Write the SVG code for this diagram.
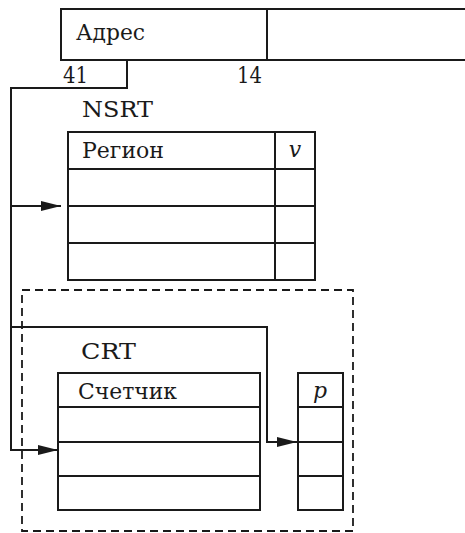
<svg xmlns="http://www.w3.org/2000/svg" width="465" height="533" viewBox="0 0 465 533">
<defs>
<style>
.box{fill:none;stroke:#1a1a1a;stroke-width:2}
.ln{fill:none;stroke:#1a1a1a;stroke-width:2}
.dash{fill:none;stroke:#1a1a1a;stroke-width:1.8;stroke-dasharray:8,5}
.t{font-family:'DejaVu Serif','Liberation Serif',serif;font-size:22px;fill:#1a1a1a}
.it{font-style:italic}
</style>
<marker id="ah" markerWidth="20" markerHeight="10" refX="20" refY="5" orient="auto" markerUnits="userSpaceOnUse">
<path d="M0,0 L20,5 L0,10 Z" fill="#1a1a1a"/>
</marker>
</defs>
<rect width="465" height="533" fill="#ffffff"/>
<g id="address">
<path class="box" d="M466,9 H61 V60 H466"/>
<line class="ln" x1="267" y1="9" x2="267" y2="60"/>
<text class="t" x="76" y="40" textLength="69" lengthAdjust="spacingAndGlyphs">Адрес</text>
<text class="t" x="63" y="83" textLength="25" lengthAdjust="spacingAndGlyphs">41</text>
<text class="t" x="237" y="83" textLength="25" lengthAdjust="spacingAndGlyphs">14</text>
</g>
<g id="nsrt">
<text class="t" x="82" y="117" textLength="71" lengthAdjust="spacingAndGlyphs">NSRT</text>
<rect class="box" x="68" y="132" width="247" height="148"/>
<line class="ln" x1="275" y1="132" x2="275" y2="280"/>
<line class="ln" x1="68" y1="169" x2="315" y2="169"/>
<line class="ln" x1="68" y1="206" x2="315" y2="206"/>
<line class="ln" x1="68" y1="243" x2="315" y2="243"/>
<text class="t" x="82" y="158" textLength="82" lengthAdjust="spacingAndGlyphs">Регион</text>
<text class="t it" x="295" y="157" text-anchor="middle">v</text>
</g>
<g id="crt-group">
<rect class="dash" x="22" y="290" width="331" height="241"/>
</g>
<g id="crt">
<text class="t" x="81" y="359" textLength="55" lengthAdjust="spacingAndGlyphs">CRT</text>
<rect class="box" x="58" y="373" width="202" height="137"/>
<line class="ln" x1="58" y1="407" x2="260" y2="407"/>
<line class="ln" x1="58" y1="442" x2="260" y2="442"/>
<line class="ln" x1="58" y1="476" x2="260" y2="476"/>
<text class="t" x="78" y="399" textLength="99" lengthAdjust="spacingAndGlyphs">Счетчик</text>
</g>
<g id="ptable">
<rect class="box" x="298" y="373" width="45" height="137"/>
<line class="ln" x1="298" y1="407" x2="343" y2="407"/>
<line class="ln" x1="298" y1="442" x2="343" y2="442"/>
<line class="ln" x1="298" y1="476" x2="343" y2="476"/>
<text class="t it" x="320" y="398" text-anchor="middle">p</text>
</g>
<g id="connectors">
<path class="ln" d="M127,60 V88 H11 V450 H58" marker-end="url(#ah)"/>
<path class="ln" d="M11,206 H61" marker-end="url(#ah)"/>
<path class="ln" d="M11,327 H267 V442 H297" marker-end="url(#ah)"/>
</g>
</svg>
